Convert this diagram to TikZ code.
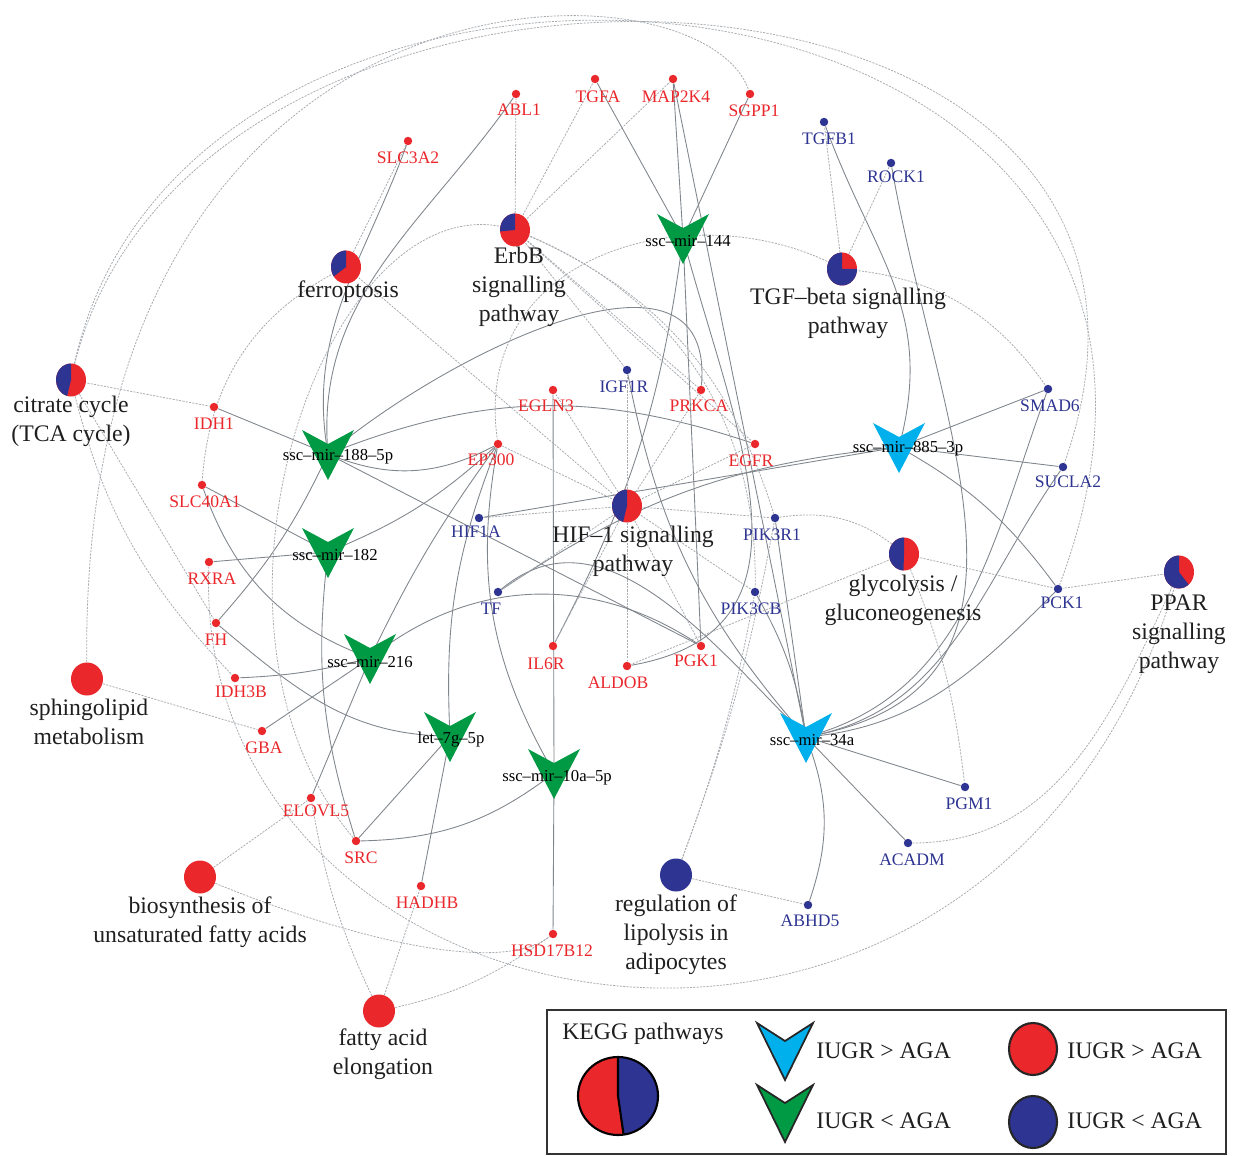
\documentclass[tikz,border=0pt]{standalone}
\usepackage{fontspec}
\setmainfont{Liberation Serif}
\usepackage{xcolor}
\usetikzlibrary{backgrounds}
\definecolor{kred}{RGB}{234,39,43}
\definecolor{kblue}{RGB}{45,52,145}
\definecolor{kcyan}{RGB}{0,176,236}
\definecolor{kgreen}{RGB}{0,153,68}
\definecolor{lsolid}{RGB}{128,134,140}
\definecolor{ldot}{RGB}{168,172,177}

\begin{document}
\begin{tikzpicture}[x=0.02cm,y=0.02cm,
  gdot/.style={circle,fill=#1,inner sep=0pt,minimum size=4.8pt},
  glab/.style={font=\fontsize{10}{12}\selectfont,inner sep=0pt},
  mlab/.style={font=\fontsize{9.5}{10}\selectfont,inner sep=0pt,text height=6.4pt,text depth=0pt},
  plab/.style={font=\fontsize{13.5}{16.5}\selectfont,inner sep=0pt,align=center,text=black!88},
  mlink/.style={draw=lsolid,line width=0.5pt},
  plink/.style={draw=ldot,line width=0.45pt,dash pattern=on 1.2pt off 0.7pt}]

\useasboundingbox (0,0) rectangle (1236,-1155);

%pathways:
\foreach \n/\x/\y in {tca/71/380, ferro/346/267, erbb/515/230, tgfb/842/269,
  hif/627/506, glyc/904/554, ppar/1179/572, sphingo/87/679, biosyn/200/877,
  elong/379/1011, lipol/676/875}
  \coordinate (\n) at (\x,-\y);

%miRNAs:
\foreach \n/\x/\y in {m188/328/454, m182/328/552, m216/370/658, let7g/450/736,
  m10a/554/773, m144/683/238, m885/899/447, m34a/806/737}
  \coordinate (\n) at (\x,-\y);

%genes, IUGR > AGA:
\foreach \n/\x/\y/\lx/\ly/\t in {abl1/516/94/519/110/ABL1, tgfa/595/79/598/97/TGFA,
  map2k4/673/79/676/97/MAP2K4, sgpp1/750/94/754/111/SGPP1, slc3a2/408/141/408/158/SLC3A2,
  egln3/553/390/546/406/EGLN3, prkca/701/390/699/406/PRKCA, ep300/498/444/491/460/EP300,
  egfr/755/444/751/461/EGFR, idh1/214/407/214/424/IDH1, slc40a1/202/485/205/502/SLC40A1,
  rxra/209/562/212/579/RXRA, fh/216/623/216/640/FH, idh3b/235/678/241/692/IDH3B,
  gba/262/731/264/748/GBA, elovl5/311/798/316/811/ELOVL5, src/356/841/361/858/SRC,
  hadhb/421/886/427/903/HADHB, hsd17b12/553/934/552/951/HSD17B12,
  il6r/553/646/546/664/IL6R, aldob/627/666/618/683/ALDOB, pgk1/701/646/696/661/PGK1}{
  \node[gdot=kred] (\n) at (\x,-\y) {};
  \node[glab,text=kred] (\n-t) at (\lx,-\ly) {\t};
}
%genes, IUGR < AGA:
\foreach \n/\x/\y/\lx/\ly/\t in {tgfb1/824/122/829/139/TGFB1, rock1/891/163/896/177/ROCK1,
  igf1r/627/370/624/387/IGF1R, smad6/1048/389/1050/406/SMAD6, sucla2/1063/467/1068/482/SUCLA2,
  hif1a/479/518/476/532/HIF1A, tf/498/592/491/609/TF, pik3r1/775/518/772/535/PIK3R1,
  pik3cb/755/592/751/609/PIK3CB, pck1/1058/589/1062/603/PCK1, pgm1/965/787/969/804/PGM1,
  acadm/908/843/912/860/ACADM, abhd5/808/905/810/921/ABHD5}{
  \node[gdot=kblue] (\n) at (\x,-\y) {};
  \node[glab,text=kblue] (\n-t) at (\lx,-\ly) {\t};
}

\begin{scope}[on background layer]
%miRNA targets
\foreach \g in {tgfa,map2k4,sgpp1,pgk1} \draw[mlink] (m144) -- (\g);
\draw[mlink] (m144) to[bend left=10] (il6r);
\draw[mlink] (m144) to[out=-75,in=10,looseness=1.2] (aldob);
\foreach \g in {idh1,pgk1} \draw[mlink] (m188) -- (\g);
\draw[mlink] (m188) to[out=100,in=250] (slc3a2);
\draw[mlink] (m188) to[out=95,in=235] (abl1);
\draw[mlink] (m188) to[bend left=20] (egfr);
\draw[mlink] (m188) to[bend right=25] (ep300);
\draw[mlink] (m188) to[out=40,in=85,looseness=1.1] (prkca);
\draw[mlink] (m188) to[bend left=8] (fh);
\foreach \g in {slc40a1,rxra} \draw[mlink] (m182) -- (\g);
\draw[mlink] (m182) to[bend right=10] (ep300);
\draw[mlink] (m182) to[bend right=12] (src);
\foreach \g in {gba,elovl5} \draw[mlink] (m216) -- (\g);
\draw[mlink] (slc40a1) to[bend right=25] (m216);
\draw[mlink] (idh3b) to[bend right=6] (m216);
\draw[mlink] (m216) to[bend left=5] (ep300);
\draw[mlink] (m216) to[bend left=36] (pgk1);
\draw[mlink] (fh) to[out=-40,in=180] (let7g);
\foreach \g in {src,hadhb} \draw[mlink] (let7g) -- (\g);
\draw[mlink] (let7g) to[bend left=12] (ep300);
\foreach \g in {egln3,hsd17b12} \draw[mlink] (m10a) -- (\g);
\draw[mlink] (src) to[bend right=18] (m10a);
\draw[mlink] (ep300) to[bend right=20] (m10a);
\foreach \g in {smad6,sucla2,hif1a} \draw[mlink] (m885) -- (\g);
\draw[mlink] (m885) to[bend left=12] (pck1);
\draw[mlink] (tgfb1) to[out=-70,in=75,looseness=1.1] (m885);
\draw[mlink] (tf) to[bend left=14] (m885);
\foreach \g in {pgm1,acadm,pik3r1,map2k4} \draw[mlink] (m34a) -- (\g);
\draw[mlink] (m34a) to[bend left=20] (abhd5);
\draw[mlink] (m34a) to[bend right=10] (pik3cb);
\draw[mlink] (m34a) to[out=15,in=250] (smad6);
\draw[mlink] (m34a) to[out=10,in=235] (sucla2);
\draw[mlink] (m34a) to[out=5,in=225] (pck1);
\draw[mlink] (m34a) to[out=10,in=280,looseness=1.2] (rock1);
\draw[mlink] (tf) to[out=40,in=135] (m34a);
\draw[mlink] (igf1r) to[bend right=15] (m34a);

%pathway members
\foreach \g in {abl1,tgfa,map2k4,egfr,prkca,igf1r} \draw[plink] (erbb) -- (\g);
\draw[plink] (erbb) to[bend left=25] (pik3r1);
\draw[plink] (erbb) to[bend left=35] (pik3cb);
\draw[plink] (erbb) .. controls (330,-170) and (170,-620) .. (src);
\foreach \g in {tgfb1,rock1} \draw[plink] (tgfb) -- (\g);
\draw[plink] (tgfb) to[bend left=25] (smad6);
\draw[plink] (tgfb) .. controls (700,-190) and (470,-250) .. (ep300);
\foreach \g in {hif1a,egln3,igf1r,ep300,egfr,pik3r1,pik3cb,tf,il6r,aldob,pgk1,prkca}
  \draw[plink] (hif) -- (\g);
\foreach \g in {aldob,pck1} \draw[plink] (glyc) -- (\g);
\draw[plink] (glyc) to[bend left=8] (pgm1);
\draw[plink] (pik3r1) to[bend left=25] (glyc);
\draw[plink] (ppar) -- (pck1);
\draw[plink] (acadm) to[out=0,in=245] (ppar);
\draw[plink] (rxra) .. controls (190,-1050) and (1000,-1200) .. (ppar);
\draw[plink] (sphingo) -- (gba);
\draw[plink] (sphingo) .. controls (70,60) and (700,50) .. (sgpp1);
\foreach \g in {idh1,fh} \draw[plink] (tca) -- (\g);
\draw[plink] (tca) to[bend right=15] (idh3b);
\draw[plink] (tca) .. controls (175,130) and (1260,90) .. (sucla2);
\draw[plink] (tca) .. controls (170,170) and (1310,80) .. (pck1);
\draw[plink] (biosyn) -- (elovl5);
\draw[plink] (biosyn) .. controls (350,-940) and (500,-975) .. (hsd17b12);
\draw[plink] (elong) to[bend left=8] (elovl5);
\draw[plink] (elong) -- (hadhb);
\draw[plink] (elong) to[bend right=12] (hsd17b12);
\draw[plink] (lipol) -- (abhd5);
\draw[plink] (lipol) to[bend right=5] (pik3cb);
\draw[plink] (lipol) to[bend right=5] (pik3r1);
\draw[plink] (ferro) -- (slc3a2);
\draw[plink] (ferro) to[bend right=30] (slc40a1);
\draw[plink] (ferro) -- (hif);
\end{scope}

%pies (blue share from/to)
\foreach \n/\a/\b in {tca/90/255, ferro/90/215, erbb/90/185, tgfb/90/360,
  hif/90/255, glyc/90/268, ppar/90/310}{
  \fill[kred] (\n) ellipse[x radius=15,y radius=16.5];
  \fill[kblue] (\n) -- ++(\a:15 and 16.5) arc[start angle=\a,end angle=\b,x radius=15,y radius=16.5] -- cycle;
}
\foreach \n/\c in {sphingo/kred, biosyn/kred, elong/kred, lipol/kblue}
  \fill[\c] (\n) ellipse[x radius=16,y radius=16.5];

%miRNA arrows
\foreach \n/\c in {m188/kgreen, m182/kgreen, m216/kgreen, let7g/kgreen, m10a/kgreen,
  m144/kgreen, m885/kcyan, m34a/kcyan}
  \fill[\c] (\n) ++(-26,24) -- ++(26,-14) -- ++(26,14) -- ++(-26,-50) -- cycle;

\node[mlab] (m188-t) at (338,-455) {ssc--mir--188--5p};
\node[mlab] (m182-t) at (335,-555) {ssc--mir--182};
\node[mlab] (m216-t) at (370,-662) {ssc--mir--216};
\node[mlab] (let7g-t) at (451,-738) {let--7g--5p};
\node[mlab] (m10a-t) at (557,-776) {ssc--mir--10a--5p};
\node[mlab] (m144-t) at (688,-241) {ssc--mir--144};
\node[mlab] (m885-t) at (908,-447) {ssc--mir--885--3p};
\node[mlab] (m34a-t) at (812,-740) {ssc--mir--34a};

\node[plab] (tca-t) at (71,-421) {citrate cycle\\(TCA cycle)};
\node[plab] (ferro-t) at (348,-292) {ferroptosis};
\node[plab] (erbb-t) at (519,-287) {ErbB\\signalling\\pathway};
\node[plab] (tgfb-t) at (848,-313) {TGF--beta signalling\\pathway};
\node[plab] (hif-t) at (633,-551) {HIF--1 signalling\\pathway};
\node[plab] (glyc-t) at (903,-600) {glycolysis /\\gluconeogenesis};
\node[plab] (ppar-t) at (1179,-634) {PPAR\\signalling\\pathway};
\node[plab] (sphingo-t) at (89,-722) {sphingolipid\\metabolism};
\node[plab] (biosyn-t) at (200,-922) {biosynthesis of\\unsaturated fatty acids};
\node[plab] (elong-t) at (383,-1054) {fatty acid\\elongation};
\node[plab] (lipol-t) at (676,-935) {regulation of\\lipolysis in\\adipocytes};

%legend:
\draw[line width=1.4pt,black!80] (547,-1010) rectangle (1226,-1154);
\node[plab] (key-t) at (643,-1034) {KEGG pathways};
\coordinate (key-pie) at (618,-1096);
\fill[kred] (key-pie) ellipse[x radius=40,y radius=39];
\fill[kblue] (key-pie) -- ++(90:40 and 39) arc[start angle=90,end angle=-82,x radius=40,y radius=39] -- cycle;
\draw[line width=1.2pt] (key-pie) ellipse[x radius=40,y radius=39];
\draw[line width=1.2pt] (key-pie) ++(90:40 and 39) -- (key-pie) -- ++(-82:40 and 39);
\filldraw[fill=kcyan,draw=black!85,line width=1pt] (785,-1051) ++(-28,28) -- ++(28,-18) -- ++(28,18) -- ++(-28,-57) -- cycle;
\filldraw[fill=kgreen,draw=black!85,line width=1pt] (785,-1113) ++(-28,28) -- ++(28,-18) -- ++(28,18) -- ++(-28,-57) -- cycle;
\filldraw[fill=kred,draw=black!85,line width=1.2pt] (1033,-1049) ellipse[x radius=24,y radius=26];
\filldraw[fill=kblue,draw=black!85,line width=1.2pt] (1033,-1122) ellipse[x radius=24,y radius=26];
\node[plab,anchor=west] (key-up1) at (816,-1051) {IUGR > AGA};
\node[plab,anchor=west] (key-dn1) at (816,-1121) {IUGR < AGA};
\node[plab,anchor=west] (key-up2) at (1067,-1051) {IUGR > AGA};
\node[plab,anchor=west] (key-dn2) at (1067,-1121) {IUGR < AGA};

\end{tikzpicture}
\end{document}
